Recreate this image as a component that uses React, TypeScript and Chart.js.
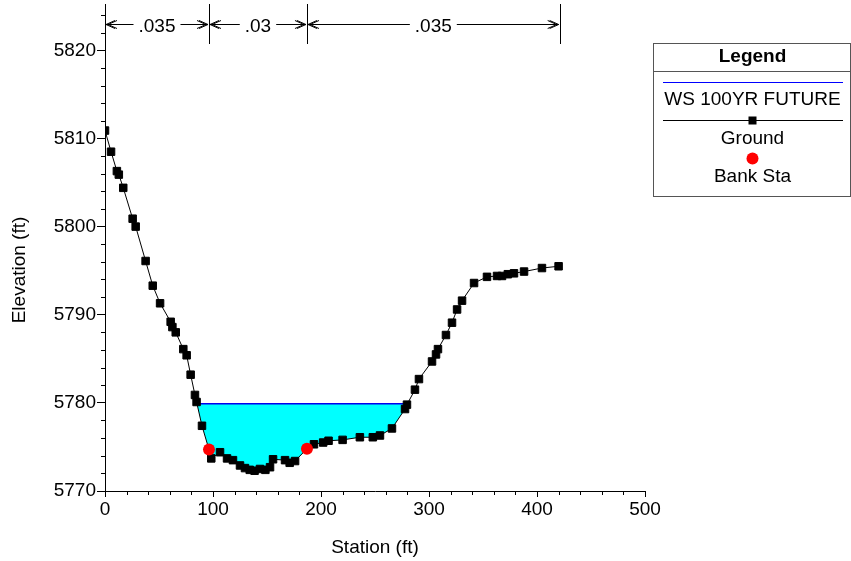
import React, { useEffect, useRef } from 'react';
import { Chart, registerables } from 'chart.js';

Chart.register(...registerables);

// Ground profile
const groundSta = [0, 5.6, 11, 12.8, 16.9, 25.6, 28.4, 37.6, 44.2, 51, 60.8, 62.4, 65.5, 72.5, 75.6, 79.3, 83.3, 84.8, 89.8, 96.3, 98.4, 106.5, 113, 118.5, 125, 129.6, 134, 138.5, 143.5, 148.5, 152.8, 155.6, 166.7, 171, 176, 187, 193.5, 202, 207, 220, 236, 248, 254.6, 265.7, 277.8, 279.6, 287, 290.7, 302.8, 306.5, 308.3, 315.7, 321.3, 326, 330.6, 341.7, 353.7, 363, 367.6, 373, 378.7, 388, 404.6, 420];
const groundElev = [5810.9, 5808.5, 5806.3, 5805.9, 5804.4, 5800.9, 5800.0, 5796.1, 5793.3, 5791.3, 5789.2, 5788.6, 5788.0, 5786.1, 5785.4, 5783.2, 5780.9, 5780.1, 5777.4, 5774.7, 5773.7, 5774.4, 5773.7, 5773.5, 5772.9, 5772.6, 5772.4, 5772.3, 5772.5, 5772.4, 5772.7, 5773.6, 5773.5, 5773.2, 5773.4, 5774.8, 5775.3, 5775.5, 5775.7, 5775.8, 5776.1, 5776.1, 5776.3, 5777.1, 5779.3, 5779.8, 5781.5, 5782.7, 5784.7, 5785.5, 5786.1, 5787.7, 5789.1, 5790.6, 5791.6, 5793.6, 5794.3, 5794.4, 5794.4, 5794.6, 5794.7, 5794.9, 5795.3, 5795.5];

// Bank stations
const bankSta = [96.3, 187];
const bankElev = [5774.7, 5774.8];

// Water surface (WS 100YR FUTURE)
const wsSta = [85.2, 280.2];
const wsElev = [5779.9, 5779.9];

// Manning's n values and their break stations
const nValues = ['.035', '.03', '.035'];
const nBreaks = [0, 96.3, 187, 421];

// Axis ticks
const xMin = 0, xMax = 500, xMajor = 100, xMinor = 20;
const yMin = 5770, yMax = 5825, yMajor = 10, yMinor = 2;

const FONT = '"Liberation Sans", Arial, sans-serif';
const FS = 19;

const toPts = (xs: number[], ys: number[]) => xs.map((x, i) => ({ x, y: ys[i] }));

export default function App() {
  const ref = useRef<HTMLCanvasElement>(null);

  useEffect(() => {
    document.body.style.margin = '0';
    const canvas = ref.current!;

    const decor = {
      id: 'decor',
      afterDraw(chart: any) {
        const ctx = chart.ctx as CanvasRenderingContext2D;
        const xs = chart.scales.x;
        const ys = chart.scales.y;
        const area = chart.chartArea;
        ctx.save();
        ctx.strokeStyle = '#000';
        ctx.lineWidth = 1;
        // minor ticks
        ctx.beginPath();
        for (let v = xMin; v <= xMax; v += xMinor) {
          if (v % xMajor === 0) continue;
          const px = Math.round(xs.getPixelForValue(v)) + 0.5;
          ctx.moveTo(px, area.bottom);
          ctx.lineTo(px, area.bottom + 4);
        }
        for (let v = yMin; v <= yMax; v += yMinor) {
          if (v % yMajor === 0) continue;
          const py = Math.round(ys.getPixelForValue(v)) + 0.5;
          ctx.moveTo(area.left, py);
          ctx.lineTo(area.left - 4, py);
        }
        ctx.stroke();

        // axis titles
        ctx.fillStyle = '#000';
        ctx.font = `${FS}px ${FONT}`;
        ctx.textAlign = 'center';
        ctx.textBaseline = 'middle';
        ctx.fillText('Station (ft)', (area.left + area.right) / 2, 548);
        ctx.save();
        ctx.translate(20, 270);
        ctx.rotate(-Math.PI / 2);
        ctx.fillText('Elevation (ft)', 0, 0);
        ctx.restore();

        // Manning's n annotation
        const yL = 24.5;
        ctx.beginPath();
        nBreaks.forEach((b) => {
          const px = Math.round(xs.getPixelForValue(b)) + 0.5;
          ctx.moveTo(px, 4);
          ctx.lineTo(px, 44);
        });
        ctx.stroke();
        ctx.textBaseline = 'alphabetic';
        const arrow = (tipX: number, dir: number) => {
          for (const off of [0, 2]) {
            const tx = tipX + dir * off;
            ctx.moveTo(tx + dir * 9, yL - 4);
            ctx.lineTo(tx, yL);
            ctx.lineTo(tx + dir * 9, yL + 4);
          }
        };
        for (let i = 0; i < nValues.length; i++) {
          const x1 = xs.getPixelForValue(nBreaks[i]);
          const x2 = xs.getPixelForValue(nBreaks[i + 1]);
          const cx = (x1 + x2) / 2;
          const w = ctx.measureText(nValues[i]).width;
          ctx.fillText(nValues[i], cx, 32);
          ctx.beginPath();
          ctx.moveTo(x1 + 1, yL);
          ctx.lineTo(cx - w / 2 - 5, yL);
          ctx.moveTo(cx + w / 2 + 5, yL);
          ctx.lineTo(x2 - 1, yL);
          arrow(x1 + 1, 1);
          arrow(x2 - 1, -1);
          ctx.stroke();
        }

        // Legend box
        const L = 653.5, R = 850.5, T = 43.5, B = 196.5;
        ctx.strokeStyle = '#555';
        ctx.strokeRect(L, T, R - L, B - T);
        ctx.beginPath();
        ctx.moveTo(L, 71.5);
        ctx.lineTo(R, 71.5);
        ctx.stroke();
        const cx = 752.5;
        ctx.fillStyle = '#000';
        ctx.font = `bold ${FS}px ${FONT}`;
        ctx.fillText('Legend', cx, 62);
        ctx.font = `${FS}px ${FONT}`;
        ctx.strokeStyle = '#0000ff';
        ctx.beginPath();
        ctx.moveTo(663, 82.5);
        ctx.lineTo(843, 82.5);
        ctx.stroke();
        ctx.fillText('WS 100YR FUTURE', cx, 105);
        ctx.strokeStyle = '#000';
        ctx.beginPath();
        ctx.moveTo(663, 120.5);
        ctx.lineTo(843, 120.5);
        ctx.stroke();
        ctx.fillRect(cx - 4, 116.5, 8, 8);
        ctx.fillText('Ground', cx, 144);
        ctx.fillStyle = '#ff0000';
        ctx.beginPath();
        ctx.arc(cx, 158.5, 6, 0, Math.PI * 2);
        ctx.fill();
        ctx.fillStyle = '#000';
        ctx.fillText('Bank Sta', cx, 182);
        ctx.restore();
      },
    };

    const chart = new Chart(canvas, {
      type: 'scatter',
      data: {
        datasets: [
          {
            label: 'WS 100YR FUTURE',
            data: toPts(wsSta, wsElev),
            showLine: true,
            borderColor: '#0000ee',
            borderWidth: 1.5,
            backgroundColor: '#00ffff',
            pointRadius: 0,
            fill: { target: 1, above: '#00ffff', below: '#00ffff' },
            order: 2,
          },
          {
            label: 'Ground',
            data: toPts(groundSta, groundElev),
            showLine: true,
            borderColor: '#000',
            borderWidth: 1,
            pointStyle: 'rect',
            pointRadius: 5.3,
            pointBorderWidth: 1,
            pointBackgroundColor: '#000',
            pointBorderColor: '#000',
            fill: false,
            order: 1,
          },
          {
            label: 'Bank Sta',
            data: toPts(bankSta, bankElev),
            showLine: false,
            pointStyle: 'circle',
            pointRadius: 6,
            pointBorderWidth: 0,
            pointBackgroundColor: '#ff0000',
            pointBorderColor: '#ff0000',
            order: 0,
          },
        ],
      },
      options: {
        animation: false,
        responsive: false,
        events: [],
        layout: { padding: { left: 0, right: 206, top: 0, bottom: 0 } },
        plugins: { legend: { display: false }, tooltip: { enabled: false } },
        scales: {
          x: {
            type: 'linear',
            min: xMin,
            max: xMax,
            ticks: { stepSize: xMajor, color: '#000', font: { family: FONT, size: FS }, padding: 1, includeBounds: false, maxRotation: 0, callback: (v: any) => String(v) },
            grid: { drawOnChartArea: false, drawTicks: true, tickLength: 6, color: '#000' },
            border: { display: true, color: '#000', width: 1 },
            afterFit(scale: any) {
              scale.height = 70;
              scale.paddingLeft = 0;
              scale.paddingRight = 0;
            },
          },
          y: {
            type: 'linear',
            min: yMin,
            max: yMax,
            ticks: { stepSize: yMajor, color: '#000', font: { family: FONT, size: FS }, padding: 1, includeBounds: false, callback: (v: any) => String(v) },
            grid: { drawOnChartArea: false, drawTicks: true, tickLength: 8, color: '#000' },
            border: { display: true, color: '#000', width: 1 },
            afterFit(scale: any) {
              scale.width = 105;
              scale.paddingTop = 0;
              scale.paddingBottom = 0;
            },
          },
        },
      },
      plugins: [decor],
    } as any);

    return () => chart.destroy();
  }, []);

  return (
    <div style={{ position: 'relative', width: 851, height: 561, background: '#fff' }}>
      <canvas ref={ref} width={851} height={561} style={{ display: 'block' }} />
    </div>
  );
}
